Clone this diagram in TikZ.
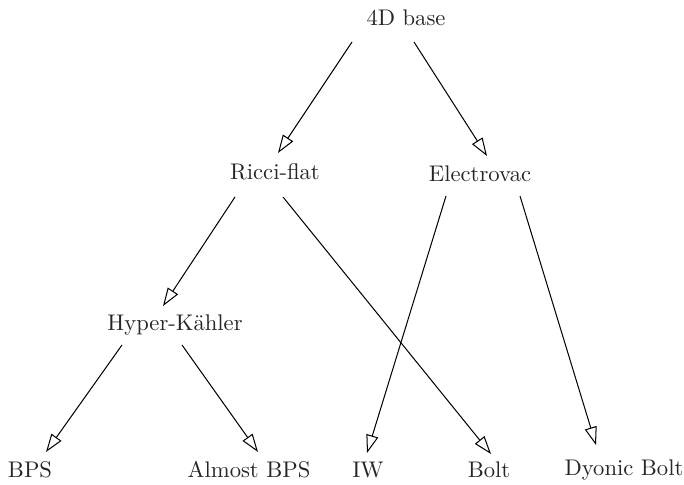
\documentclass[tikz,border=0pt]{standalone}
\usepackage{tikz}
\usetikzlibrary{arrows.meta,calc}
\tikzstyle{lab}=[inner sep=0pt, text=black!85]
\tikzstyle{imp}=[-{Triangle[open,length=8pt,width=5.4pt]}, line width=0.45pt]

\begin{document}
\begin{tikzpicture}[x=0.442pt, y=-0.442pt]
  \useasboundingbox (0,0) rectangle (684,484);
  % levels
  \node[lab] (base) at (406,18) {4D base};
  \node[lab] (ricci) at (275,172) {Ricci-flat};
  \node[lab] (elec) at (480,174) {Electrovac};
  \node[lab] (hk) at (175,325) {Hyper-K\"ahler};
  \node[lab] (bps) at (30,470) {BPS};
  \node[lab] (abps) at (249,470) {Almost BPS};
  \node[lab] (iw) at (368,470) {IW};
  \node[lab] (bolt) at (489,470) {Bolt};
  \node[lab] (dbolt) at (624,470) {Dyonic Bolt};
  % arrows
  \draw[imp] ($(base)+(-54,24)$) -- ($(ricci)+(3,-19)$);
  \draw[imp] ($(base)+(8,24)$) -- ($(elec)+(7,-18)$);
  \draw[imp] ($(ricci)+(-40,25)$) -- ($(hk)+(-12,-19)$);
  \draw[imp] ($(ricci)+(8,25)$) -- ($(bolt)+(2,-16)$);
  \draw[imp] ($(elec)+(-34,22)$) -- ($(iw)+(-1,-17)$);
  \draw[imp] ($(elec)+(40,22)$) -- ($(dbolt)+(-28,-25)$);
  \draw[imp] ($(hk)+(-53,20)$) -- ($(bps)+(16,-18)$);
  \draw[imp] ($(hk)+(7,20)$) -- ($(abps)+(9,-18)$);
\end{tikzpicture}
\end{document}
